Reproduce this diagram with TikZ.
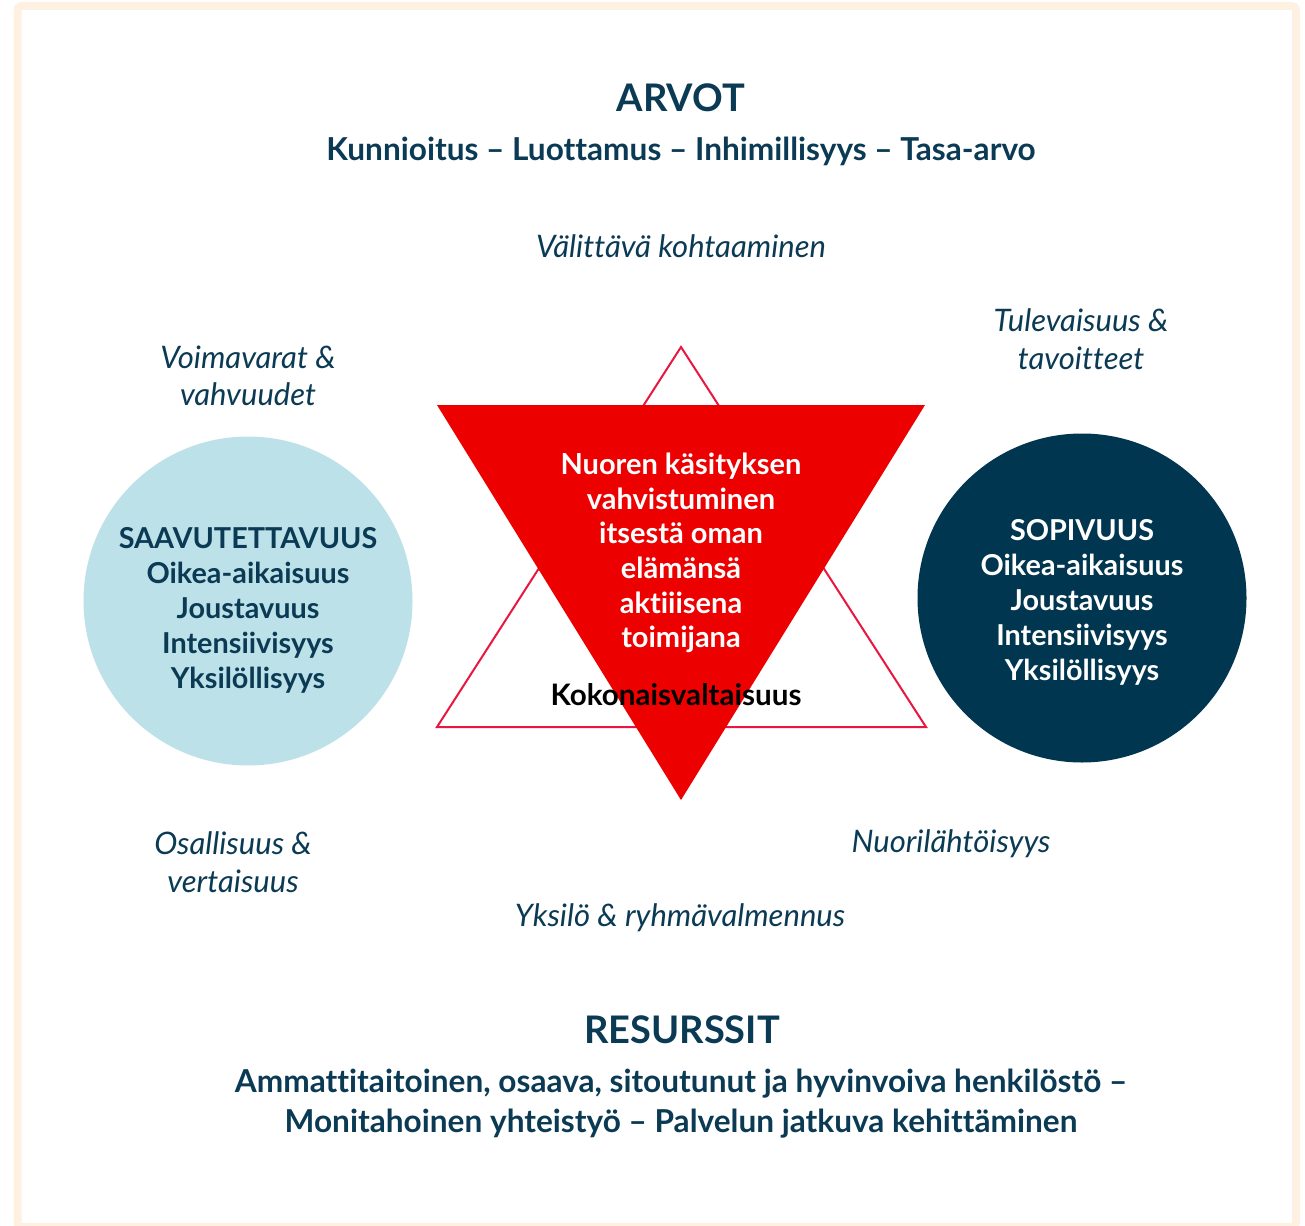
\documentclass[tikz,border=0pt]{standalone}
\usepackage{fontspec}
\setmainfont{Lato}[Ligatures=NoCommon]
\definecolor{navy}{HTML}{0B3A54}
\definecolor{deepnavy}{HTML}{00364F}
\definecolor{paleblue}{HTML}{BDE1E8}
\definecolor{starred}{HTML}{EC0000}
\definecolor{rimred}{HTML}{E8173F}
\definecolor{cream}{HTML}{FEF1E2}
\tikzset{
  heading/.style={text=navy, font=\bfseries\fontsize{19}{24}\selectfont},
  subline/.style={text=navy, font=\bfseries\fontsize{15.8}{20}\selectfont, align=center},
  theme/.style={text=navy, font=\itshape\fontsize{15.5}{18.75}\selectfont, align=center},
  circletext/.style={font=\bfseries\fontsize{14.4}{17.5}\selectfont, align=center},
}
\begin{document}
\begin{tikzpicture}[x=0.5pt,y=-0.5pt]
\useasboundingbox (0,0) rectangle (1305,1225);
% frame
\draw[cream, line width=4pt, rounded corners=2pt] (17.5,6) rectangle (1296,1227);

% header
\node[heading] (arvot) at (681,98) {ARVOT};
\node[subline] (values) at (681,151) {Kunnioitus – Luottamus – Inhimillisyys – Tasa-arvo};

% star
\draw[rimred, line width=1pt, fill=white] (681,347) -- (926,727) -- (437,727) -- cycle;
\fill[starred] (437,405) -- (925,405) -- (681,800) -- cycle;
\node[circletext, text=white, font=\bfseries\fontsize{14.5}{17.3}\selectfont] (aim) at (681,553)
  {Nuoren käsityksen\\vahvistuminen\\itsestä oman\\elämänsä\\aktiiisena\\toimijana};
\node[text=black, font=\bfseries\fontsize{14.8}{17}\selectfont] (whole) at (676,695) {Kokonaisvaltaisuus};

% circles
\fill[paleblue] (248,601) circle (164.5);
\node[circletext, text=navy] (saav) at (248,610)
  {SAAVUTETTAVUUS\\Oikea-aikaisuus\\Joustavuus\\Intensiivisyys\\Yksilöllisyys};
\fill[deepnavy] (1082,598) circle (164.5);
\node[circletext, text=white] (sopi) at (1082,602)
  {SOPIVUUS\\Oikea-aikaisuus\\Joustavuus\\Intensiivisyys\\Yksilöllisyys};

% themes
\node[theme] (meet) at (681,246) {Välittävä kohtaaminen};
\node[theme] (future) at (1081,339) {Tulevaisuus \&\\tavoitteet};
\node[theme] (strength) at (248,376) {Voimavarat \&\\vahvuudet};
\node[theme] (peer) at (233,862) {Osallisuus \&\\vertaisuus};
\node[theme] (youth) at (951,844) {Nuorilähtöisyys};
\node[theme] (coach) at (680,918) {Yksilö \& ryhmävalmennus};

% footer
\node[heading] (res) at (682,1030) {RESURSSIT};
\node[subline] (resline) at (681,1104)
  {Ammattitaitoinen, osaava, sitoutunut ja hyvinvoiva henkilöstö –\\Monitahoinen yhteistyö – Palvelun jatkuva kehittäminen};
\end{tikzpicture}
\end{document}
